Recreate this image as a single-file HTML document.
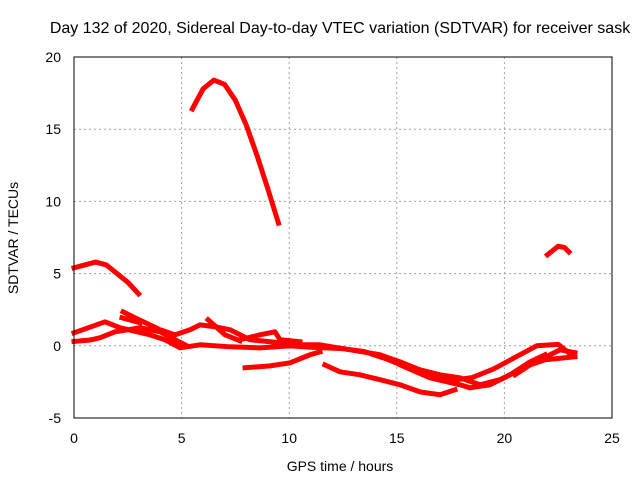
<!DOCTYPE html>
<html><head><meta charset="utf-8">
<style>
body{margin:0;background:#fff;}
svg{display:block;font-family:"Liberation Sans",sans-serif;}
</style></head>
<body>
<svg id="chart" width="640" height="480" viewBox="0 0 640 480">
  <text x="340" y="33" font-size="16" text-anchor="middle" fill="#000">Day 132 of 2020, Sidereal Day-to-day VTEC variation (SDTVAR) for receiver sask</text>
  <g id="grid"></g>
  <g id="ticks"></g>
  <g id="series"></g>
  <rect x="74" y="57" width="538" height="361" fill="none" stroke="#000" stroke-width="1"/>
  <text x="340" y="471" font-size="14" text-anchor="middle">GPS time / hours</text>
  <text x="18" y="238" font-size="14" text-anchor="middle" transform="rotate(-90 18 238)">SDTVAR / TECUs</text>
</svg>
<script>
const xTicks=[0,5,10,15,20,25];
const yTicks=[-5,0,5,10,15,20];
const sArc=[[5.5,16.4],[6,17.8],[6.5,18.4],[7,18.1],[7.5,17],[8,15.3],[8.5,13.2],[9,10.9],[9.5,8.5]];
const sEarly=[[0,5.4],[0.5,5.6],[1,5.8],[1.5,5.6],[2,5.0],[2.5,4.4],[3,3.6]];
const sLate=[[22,6.3],[22.5,6.9],[22.8,6.8],[23,6.5]];
const sD=[[0,0.9],[1.44,1.66],[2.14,1.25],[3.53,0.76],[4.23,0.42],[4.93,-0.14],[5.86,0.07],[7.25,-0.07],[8.64,-0.14],[10.04,0]];
const sE=[[0,0.3],[0.74,0.4],[1.2,0.55],[1.9,0.97],[3.07,1.25],[4.0,0.97],[4.7,0.42],[5.16,0.07]];
const sF=[[2.28,2.35],[2.83,1.94],[4.0,1.11],[4.69,0.76],[5.39,1.11],[5.86,1.45],[6.55,1.32],[7.25,1.11],[8.18,0.42],[9.11,0.28],[10.5,0.07],[11.43,0.07],[12.83,-0.28],[14.22,-0.62],[15.15,-1.11],[16.08,-1.66],[17.01,-2.01],[17.94,-2.22],[18.87,-2.7],[19.79,-2.35],[20.72,-1.66],[21.65,-0.97],[22.58,-0.28],[23.28,-0.48]];
const sG=[[2.23,1.94],[3.07,1.59]];
const sH=[[6.23,1.8],[7.02,0.76],[7.71,0.35]];
const sI=[[7.71,0.42],[8.64,0.76],[9.34,0.97],[9.57,0.42],[10.5,0.28]];
const sJ=[[7.95,-1.52],[9.11,-1.39],[10.04,-1.18],[10.97,-0.62],[11.43,-0.42]];
const sK=[[11.66,-1.32],[12.36,-1.8],[13.29,-2.01],[14.22,-2.35],[15.15,-2.7],[16.08,-3.19],[17.01,-3.39],[17.7,-3.05]];
const sL=[[15.15,-1.32],[16.54,-2.22],[17.94,-2.7],[18.4,-2.91],[19.33,-2.7],[20.26,-2.01],[21.19,-1.11],[21.89,-0.62]];
const sM=[[20.49,-2.01],[21.19,-1.32],[21.89,-0.97],[22.82,-0.83],[23.28,-0.76]];
const sN=[[10.0,0.0],[11.0,-0.1],[12.5,-0.2],[13.5,-0.4],[14.5,-0.9],[15.5,-1.5],[16.5,-1.9],[17.5,-2.4],[18.5,-2.2],[19.5,-1.6],[20.5,-0.8],[21.5,0.0],[22.5,0.1],[23.0,-0.5]];
const allSeries=[sArc,sEarly,sLate,sD,sE,sF,sG,sH,sI,sJ,sK,sL,sM,sN];
const X0=74,X1=612,Y0=418,Y1=57;
const xs=h=>X0+(h-0)/(25-0)*(X1-X0);
const ys=v=>Y0-(v+5)/(25)*(Y0-Y1);
const NS='http://www.w3.org/2000/svg';
const grid=document.getElementById('grid'),ticks=document.getElementById('ticks'),ser=document.getElementById('series');
function mk(tag,attrs,parent){const e=document.createElementNS(NS,tag);for(const k in attrs)e.setAttribute(k,attrs[k]);parent.appendChild(e);return e;}
xTicks.forEach(t=>{
  const x=xs(t);
  if(t>0&&t<25){const g=mk('line',{x1:x,x2:x,y1:Y1,y2:Y0,stroke:'#a0a0a0','stroke-dasharray':'2,3'},grid);
  
  }
  const l=mk('text',{x:x,y:443,'font-size':14,'text-anchor':'middle'},ticks);l.textContent=t;
  
  
});
yTicks.forEach(t=>{
  const y=ys(t);
  if(t>-5&&t<20){const g=mk('line',{x1:X0,x2:X1,y1:y,y2:y,stroke:'#a0a0a0','stroke-dasharray':'2,3'},grid);
  
  }
  const l=mk('text',{x:61,y:y+5,'font-size':14,'text-anchor':'end'},ticks);l.textContent=t;
  
  
});
allSeries.forEach(s=>{
  const p=mk('polyline',{points:s.map(d=>xs(d[0])+','+ys(d[1])).join(' '),fill:'none',stroke:'#ff0000','stroke-width':5,'stroke-linejoin':'round','stroke-linecap':'square'},ser);
  
  
});
</script>
</body></html>
